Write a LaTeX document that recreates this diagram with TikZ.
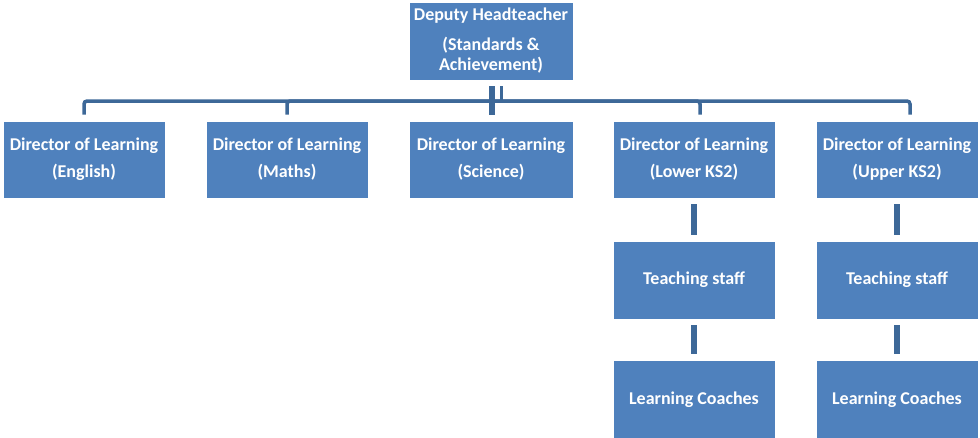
\documentclass[tikz,border=0pt]{standalone}
\usepackage{fontspec}
\setmainfont{Carlito}
\definecolor{boxblue}{HTML}{4F81BD}
\definecolor{linkblue}{HTML}{3D6898}
\begin{document}
\begin{tikzpicture}[x=1pt,y=-1pt,
  post/.style={rectangle, fill=boxblue, draw=white, line width=0.6pt, text=white,
    font=\fontsize{18}{20}\selectfont\bfseries, align=center,
    minimum width=162pt, minimum height=77pt, inner sep=0pt},
  bus/.style={linkblue, line width=3.5pt, rounded corners=3pt, shorten >=6pt},
  stem/.style={linkblue, line width=6pt, shorten <=6pt, shorten >=6pt}]
\useasboundingbox (0,0) rectangle (980,437);
\node[post, minimum width=164pt, minimum height=78pt] (dh) at (491,41){Deputy Headteacher\\[10pt](Standards \&\\Achievement)};
\node[post] (dl1) at (84,159.5){Director of Learning\\[7pt](English)};
\node[post] (dl2) at (287,159.5){Director of Learning\\[7pt](Maths)};
\node[post, minimum width=164pt] (dl3) at (491,159.5){Director of Learning\\[7pt](Science)};
\node[post] (dl4) at (694,159.5){Director of Learning\\[7pt](Lower KS2)};
\node[post] (dl5) at (897,159.5){Director of Learning\\[7pt](Upper KS2)};
\node[post, minimum height=78pt] (ts4) at (694,280){Teaching staff};
\node[post, minimum height=78pt] (ts5) at (897,280){Teaching staff};
\node[post, minimum height=80pt] (lc4) at (694,400){Learning Coaches};
\node[post, minimum height=80pt] (lc5) at (897,400){Learning Coaches};
\coordinate (bus) at (492,101);
\draw[stem, shorten >=0pt] ([xshift=1pt]dh.south) -- ++(0,35);
\draw[linkblue, line width=3pt, shorten <=6pt] ([xshift=10pt]dh.south) -- ++(0,21);
\draw[bus] (bus) -| (dl1.north);
\draw[bus] (bus) -| (dl2.north);
\draw[bus] (bus) -| ([xshift=6pt]dl4.north);
\draw[bus] (bus) -| ([xshift=13pt]dl5.north);
\draw[stem] (dl4.south) -- (ts4.north);
\draw[stem] (dl5.south) -- (ts5.north);
\draw[stem] (ts4.south) -- (lc4.north);
\draw[stem] (ts5.south) -- (lc5.north);
\end{tikzpicture}
\end{document}
